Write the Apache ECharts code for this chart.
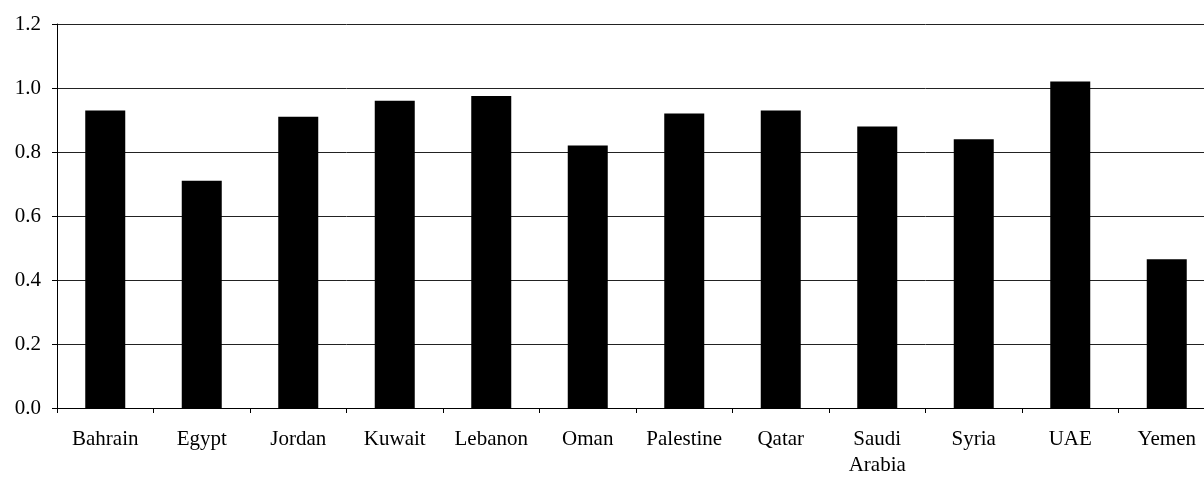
<!DOCTYPE html>
<html>
<head>
    <meta charset="utf-8">
    <script src="https://cdn.jsdelivr.net/npm/echarts@6/dist/echarts.min.js"></script>
    <style>
        html, body { margin: 0; padding: 0; background: #fff; overflow: hidden; }
        /* the original plot runs a little past the right edge of the picture */
        #chart { width: 1220px; height: 479px; }
    </style>
</head>
<body>
<div id="chart"></div>
<script>
    // countries along the x axis
    var countries = ['Bahrain', 'Egypt', 'Jordan', 'Kuwait', 'Lebanon', 'Oman',
        'Palestine', 'Qatar', 'Saudi\nArabia', 'Syria', 'UAE', 'Yemen'];
    // bar heights
    var values = [0.93, 0.71, 0.91, 0.96, 0.975, 0.82, 0.92, 0.93, 0.88, 0.84, 1.02, 0.465];

    var serif = '"Liberation Serif", "DejaVu Serif", serif';

    var option = {
        animation: false,
        grid: { left: 57, top: 24, width: 1158, height: 384 },
        xAxis: {
            type: 'category',
            data: countries,
            axisLine: { lineStyle: { color: '#000', width: 1 } },
            axisTick: { show: true, length: 5, inside: false, lineStyle: { color: '#000' } },
            axisLabel: {
                color: '#000', fontFamily: serif, fontSize: 21,
                margin: 18, lineHeight: 26, interval: 0
            }
        },
        yAxis: {
            type: 'value',
            min: 0, max: 1.2, interval: 0.2,
            axisLine: { show: true, lineStyle: { color: '#000', width: 1 } },
            axisTick: { show: true, length: 5, lineStyle: { color: '#000' } },
            axisLabel: {
                color: '#000', fontFamily: serif, fontSize: 21, margin: 16,
                formatter: function (v) { return v.toFixed(1); }
            },
            splitLine: { lineStyle: { color: '#222', width: 1 } }
        },
        series: [{
            type: 'bar',
            data: values,
            barWidth: 40,
            itemStyle: { color: '#000' }
        }]
    };

    var chart = echarts.init(document.getElementById('chart'));
    chart.setOption(option);
</script>
</body>
</html>
